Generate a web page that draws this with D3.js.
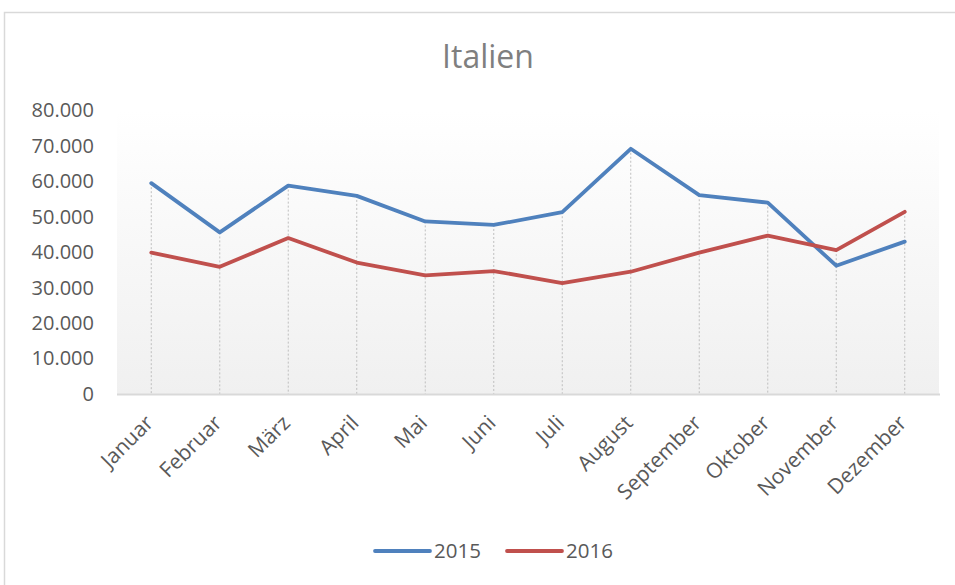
<!DOCTYPE html>
<html>
<head>
<meta charset="utf-8">
<script src="https://cdn.jsdelivr.net/npm/d3@7"></script>
<style>
  body { margin: 0; background: #fff; }
  svg { display: block; font-family: "Open Sans", sans-serif; }
</style>
</head>
<body>
<svg id="chart" width="955" height="585"></svg>
<script>
// Monate und Werte
const months = ["Januar", "Februar", "März", "April", "Mai", "Juni", "Juli",
                "August", "September", "Oktober", "November", "Dezember"];
const values2015 = [59500, 45600, 58800, 55900, 48700, 47700, 51300, 69200, 56100, 54000, 36200, 43000];
const values2016 = [39900, 35900, 44000, 37100, 33500, 34700, 31300, 34500, 39900, 44700, 40600, 51400];
const yTicks = [0, 10000, 20000, 30000, 40000, 50000, 60000, 70000, 80000];
const seriesNames = ["2015", "2016"];
const colors = ["#4f81bd", "#c0504d"];

const svg = d3.select("#chart");

// Rahmen um das Diagramm
svg.append("rect")
    .attr("x", 4.5).attr("y", 12.5)
    .attr("width", 970).attr("height", 600)
    .attr("fill", "#fff")
    .attr("stroke", "#d9d9d9")
    .attr("stroke-width", 1.5);

const plotL = 117, plotR = 939, plotT = 110.5, plotB = 394;

const x = d3.scalePoint()
    .domain(months)
    .range([plotL, plotR])
    .padding(0.5);

const y = d3.scaleLinear()
    .domain([0, 80000])
    .range([plotB, plotT]);

const de = d3.formatLocale({decimal: ",", thousands: ".", grouping: [3], currency: ["", "€"]});
const fmt = de.format(",");

// Hintergrund mit Verlauf
const grad = svg.append("defs").append("linearGradient")
    .attr("id", "bg").attr("x1", 0).attr("y1", 0).attr("x2", 0).attr("y2", 1);
grad.append("stop").attr("offset", "0%").attr("stop-color", "#ffffff");
grad.append("stop").attr("offset", "100%").attr("stop-color", "#f0f0f0");

svg.append("rect")
    .attr("x", plotL).attr("y", plotT)
    .attr("width", plotR - plotL).attr("height", plotB - plotT)
    .attr("fill", "url(#bg)");

// Titel
svg.append("text")
    .attr("x", 488).attr("y", 68)
    .attr("text-anchor", "middle")
    .style("font-size", "32px")
    .style("fill", "#7f7f7f")
    .text("Italien");

// y-Achse (nur Beschriftung)
svg.append("g")
    .attr("transform", `translate(94,0)`)
    .call(d3.axisLeft(y).tickValues(yTicks).tickFormat(fmt).tickSize(0).tickPadding(0))
    .call(g => g.select(".domain").remove())
    .selectAll("text")
        .style("font-size", "20px")
        .style("font-family", "'Open Sans', sans-serif")
        .style("fill", "#595959");

// Lotlinien
svg.append("g").selectAll("line")
    .data(months)
    .enter()
    .append("line")
        .attr("x1", d => x(d)).attr("x2", d => x(d))
        .attr("y1", (d, i) => y(Math.max(values2015[i], values2016[i])))
        .attr("y2", plotB)
        .attr("stroke", "#bfbfbf")
        .attr("stroke-width", 1)
        .attr("stroke-dasharray", "2,2");

// x-Achse
svg.append("line")
    .attr("x1", plotL).attr("x2", plotR + 1)
    .attr("y1", plotB + 0.5).attr("y2", plotB + 0.5)
    .attr("stroke", "#d9d9d9")
    .attr("stroke-width", 2);

svg.append("g").selectAll("text")
    .data(months)
    .enter()
    .append("text")
        .attr("transform", d => `translate(${x(d) - 2},${plotB + 25}) rotate(-45)`)
        .attr("text-anchor", "end")
        .attr("dy", "0.35em")
        .style("font-size", "21px")
        .style("fill", "#595959")
        .text(d => d);

// Linien
const line = d3.line()
    .x((d, i) => x(months[i]))
    .y(d => y(d));

[values2015, values2016].forEach(function(vals, k){
    svg.append("path")
        .datum(vals)
        .attr("fill", "none")
        .attr("stroke", colors[k])
        .attr("stroke-width", 3.8)
        .attr("stroke-linejoin", "round")
        .attr("stroke-linecap", "round")
        .attr("d", line);
});

// Legende
const legend = svg.append("g").attr("transform", "translate(0,551)");
const legX = [375, 507];
seriesNames.forEach(function(name, k){
    legend.append("line")
        .attr("x1", legX[k]).attr("x2", legX[k] + 55)
        .attr("y1", 0).attr("y2", 0)
        .attr("stroke", colors[k])
        .attr("stroke-width", 3.8)
        .attr("stroke-linecap", "round");
    legend.append("text")
        .attr("x", legX[k] + 59).attr("y", 0)
        .attr("dy", "0.35em")
        .style("font-size", "20.5px")
        .style("fill", "#595959")
        .text(name);
});
</script>
</body>
</html>
